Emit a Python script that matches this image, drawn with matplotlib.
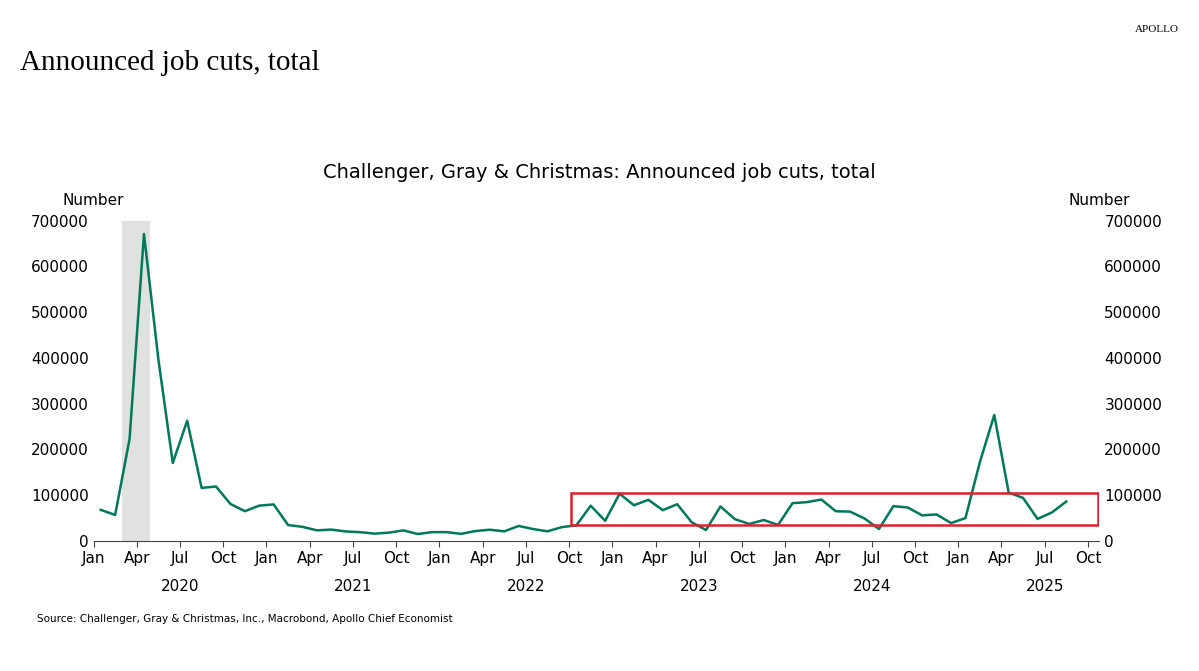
import matplotlib
matplotlib.use("Agg")
import matplotlib.pyplot as plt
from matplotlib.patches import Rectangle

values = [67735, 56660, 222288, 671129, 397016, 170219, 262649, 115762, 118804, 80666, 64797, 77030,
          79552, 34531, 30603, 22913, 24586, 20476, 18942, 15723, 17895, 22822, 14875, 19052,
          19064, 15245, 21387, 24286, 20712, 32517, 25810, 20781, 29989, 33843, 76835, 43651,
          102943, 77770, 89703, 66995, 80089, 40709, 23697, 75151, 47457, 36836, 45510, 34817,
          82307, 84638, 90309, 64789, 63816, 48786, 25885, 75891, 72821, 55597, 57727, 38792,
          49795, 172017, 275240, 105441, 93816, 47999, 62075, 85979]
years = ["2020", "2021", "2022", "2023", "2024", "2025"]
month_labels = ["Jan", "Apr", "Jul", "Oct"]
yticks = [0, 100000, 200000, 300000, 400000, 500000, 600000, 700000]

green = "#00785a"
fig = plt.figure(figsize=(11.99, 6.71), dpi=100)
ax = fig.add_axes([0.078, 0.194, 0.839, 0.477])
x = [i + 0.5 for i in range(len(values))]
ax.axvspan(1.95, 3.95, color="#e0e2e0", lw=0)
ax.plot(x, values, color=green, lw=1.8)
ax.add_patch(Rectangle((33.1, 35000), 36.6, 70000, fill=False, ec="#e0202a", lw=1.8, zorder=5))
ax.set_xlim(0, 69.8)
ax.set_ylim(0, 700000)
for s in ["top", "right", "left"]:
    ax.spines[s].set_visible(False)
ax.spines["bottom"].set_color("#444444")
ticks = list(range(0, 70, 3))
ax.set_xticks(ticks)
ax.set_xticklabels([month_labels[(t % 12) // 3] for t in ticks], fontsize=11)
ax.tick_params(axis="x", length=4, color="#444444")
ax.set_xticks([12 * i for i in range(1, 6)], minor=True)
ax.tick_params(axis="x", which="minor", length=7, color="#444444")
for i, yl in enumerate(years):
    ax.text(6 + 12 * i, -0.12, yl, transform=ax.get_xaxis_transform(), ha="center", va="top", fontsize=11)
ax.set_yticks(yticks)
ax.set_yticklabels([str(v) for v in yticks], fontsize=11)
ax.tick_params(axis="y", length=0, labelright=True)
ax.text(-0.0, 1.04, "Number", transform=ax.transAxes, ha="center", fontsize=11, va="bottom")
ax.text(1.0, 1.04, "Number", transform=ax.transAxes, ha="center", fontsize=11, va="bottom")
fig.text(0.5, 0.735, "Challenger, Gray & Christmas: Announced job cuts, total", ha="center", fontsize=14)
fig.text(0.017, 0.895, "Announced job cuts, total", fontsize=21, family="Liberation Serif", ha="left")
fig.text(0.965, 0.953, "APOLLO", fontsize=8, family="Liberation Serif", ha="center")
fig.text(0.031, 0.073, "Source: Challenger, Gray & Christmas, Inc., Macrobond, Apollo Chief Economist", fontsize=7.5)
fig.savefig("out.png", dpi=100)
